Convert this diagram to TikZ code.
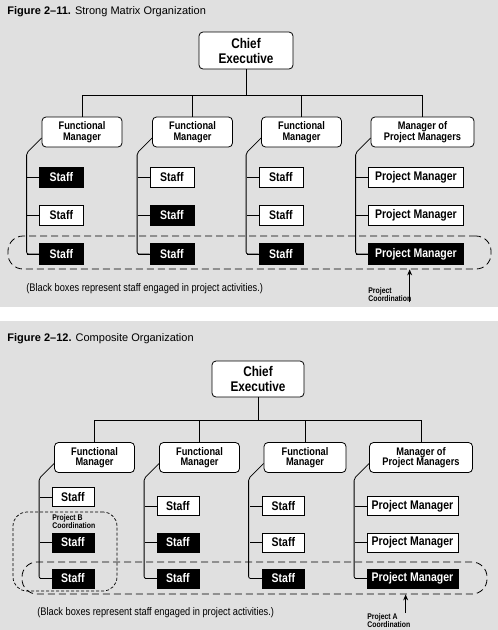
\documentclass[tikz,border=0pt]{standalone}
\usepackage{fontspec}
\setmainfont{Liberation Sans}
\newfontfamily\condensedfont{Liberation Sans}[FakeStretch=0.84]
\usetikzlibrary{arrows.meta}
\definecolor{panelgray}{RGB}{224,224,224}
\tikzset{
  boss/.style={draw,fill=white,rounded corners=4pt,align=center,inner sep=0pt,line width=0.8pt,
    minimum width=80pt,minimum height=30pt,font=\condensedfont\bfseries\fontsize{11}{10.5}\selectfont},
  chief/.style={boss,minimum width=94pt,minimum height=37pt,font=\condensedfont\bfseries\fontsize{14}{15}\selectfont},
  pmboss/.style={boss,minimum width=103pt},
  staffbox/.style={inner sep=0pt,line width=0.8pt,minimum width=44pt,minimum height=20.5pt,anchor=west,
    font=\condensedfont\bfseries\fontsize{12.5}{12}\selectfont},
  staffw/.style={staffbox,draw,fill=white},
  staffb/.style={staffbox,draw,fill=black,text=white},
  pmwide/.style={minimum width=95pt},
  pmw/.style={staffw,pmwide},
  pmb/.style={staffb,pmwide},
  coordloop/.style={draw,line width=0.8pt,dash pattern=on 7pt off 4pt,rounded corners=15pt,inner sep=0pt},
  tag/.style={inner sep=0pt,align=left,font=\condensedfont\bfseries\fontsize{8.2}{8.5}\selectfont},
  note/.style={inner sep=0pt,anchor=base west,font=\condensedfont\fontsize{11}{12}\selectfont},
  caption/.style={inner sep=0pt,anchor=base west,font=\fontsize{11}{12}\selectfont},
  pointer/.style={line width=0.8pt,-{Stealth[length=6pt,width=5pt]}}
}
% one column of staff boxes hanging from a manager
\newcommand{\staffcol}[4]{%
  \foreach \y/\kind/\txt [count=\k] in {#4} {
    \node[\kind] (#1\k) at (#3,\y) {\txt};
    \draw (#1\k.west) -- ++(-12,0);
  }
  \draw[rounded corners=2pt] ([yshift=-6pt]#2.west) -- ++(-15,15) |- (#13.west);
}

\begin{document}
\begin{tikzpicture}[x=1pt,y=-1pt,line width=0.8pt]
  \useasboundingbox (0,0) rectangle (498,630);
  \fill[panelgray] (0,0) rectangle (498,307);
  \fill[panelgray] (0,321) rectangle (498,630);

  % Figure 2-11
  \node[caption] (capT) at (7,14) {\textbf{Figure 2–11.} Strong Matrix Organization};
  \node[chief] (ceoT) at (246,50.5) {Chief\\Executive};
  \node[boss] (fm1T) at (82,132) {Functional\\Manager};
  \node[boss] (fm2T) at (192.5,132) {Functional\\Manager};
  \node[boss] (fm3T) at (301.5,132) {Functional\\Manager};
  \node[pmboss] (mpmT) at (422.5,132) {Manager of\\Project Managers};
  \coordinate (busT) at (0,95);
  \foreach \m in {fm1T,fm2T,fm3T,mpmT}
    \draw (ceoT.south) |- (busT -| \m.north) -- (\m.north);

  \node[coordloop,minimum width=483pt,minimum height=33pt] (paT) at (249.5,252.5) {};
  \staffcol{s1T}{fm1T}{39}{177.5/staffb/Staff,215.5/staffw/Staff,254/staffb/Staff}
  \staffcol{s2T}{fm2T}{149.5}{177.5/staffw/Staff,215.5/staffb/Staff,254/staffb/Staff}
  \staffcol{s3T}{fm3T}{258.5}{177.5/staffw/Staff,215.5/staffw/Staff,254/staffb/Staff}
  \staffcol{s4T}{mpmT}{368}{177.5/pmw/Project Manager,215.5/pmw/Project Manager,254/pmb/Project Manager}

  \node[note] (noteT) at (26,291.5) {(Black boxes represent staff engaged in project activities.)};
  \node[tag,anchor=north west] (pcT) at (368,287) {Project\\Coordination};
  \draw[pointer] ([xshift=-2pt]pcT.south east) -- ([xshift=-2pt]pcT.south east |- paT.south);

  % Figure 2-12
  \begin{scope}[staffbox/.append style={minimum width=42pt,minimum height=19pt},
      pmwide/.style={minimum width=91pt}]
  \node[caption] (capB) at (7,341) {\textbf{Figure 2–12.} Composite Organization};
  \node[chief,minimum width=92pt,minimum height=36pt] (ceoB) at (258,379) {Chief\\Executive};
  \node[boss] (fm1B) at (94.5,457.5) {Functional\\Manager};
  \node[boss] (fm2B) at (199.5,457.5) {Functional\\Manager};
  \node[boss,minimum width=82pt] (fm3B) at (305,457.5) {Functional\\Manager};
  \node[pmboss] (mpmB) at (421,457.5) {Manager of\\Project Managers};
  \coordinate (busB) at (0,420);
  \foreach \m in {fm1B,fm2B,fm3B,mpmB}
    \draw (ceoB.south) |- (busB -| \m.north) -- (\m.north);

  \node[coordloop,minimum width=465pt,minimum height=32pt] (paB) at (254.5,578) {};
  \node[coordloop,dash pattern=on 3pt off 2pt,line width=0.7pt,rounded corners=14pt,
    minimum width=104pt,minimum height=79pt] (pbB) at (65,551.5) {};
  \staffcol{s1B}{fm1B}{51.5}{497/staffw/Staff,542.5/staffb/Staff,578.5/staffb/Staff}
  \staffcol{s2B}{fm2B}{156.5}{506/staffw/Staff,542.5/staffb/Staff,578.5/staffb/Staff}
  \staffcol{s3B}{fm3B}{262}{506/staffw/Staff,542.5/staffw/Staff,578.5/staffb/Staff}
  \staffcol{s4B}{mpmB}{366.5}{506/pmw/Project Manager,542.5/pmw/Project Manager,578.5/pmb/Project Manager}

  \node[tag,anchor=north west] (pcbB) at (52,514) {Project B\\Coordination};
  \node[note] (noteB) at (37,615.5) {(Black boxes represent staff engaged in project activities.)};
  \node[tag,anchor=north west] (pcaB) at (367,613) {Project A\\Coordination};
  \draw[pointer] ([xshift=-5pt]pcaB.north east) -- ([xshift=-5pt]pcaB.north east |- paB.south);
  \end{scope}
\end{tikzpicture}
\end{document}
